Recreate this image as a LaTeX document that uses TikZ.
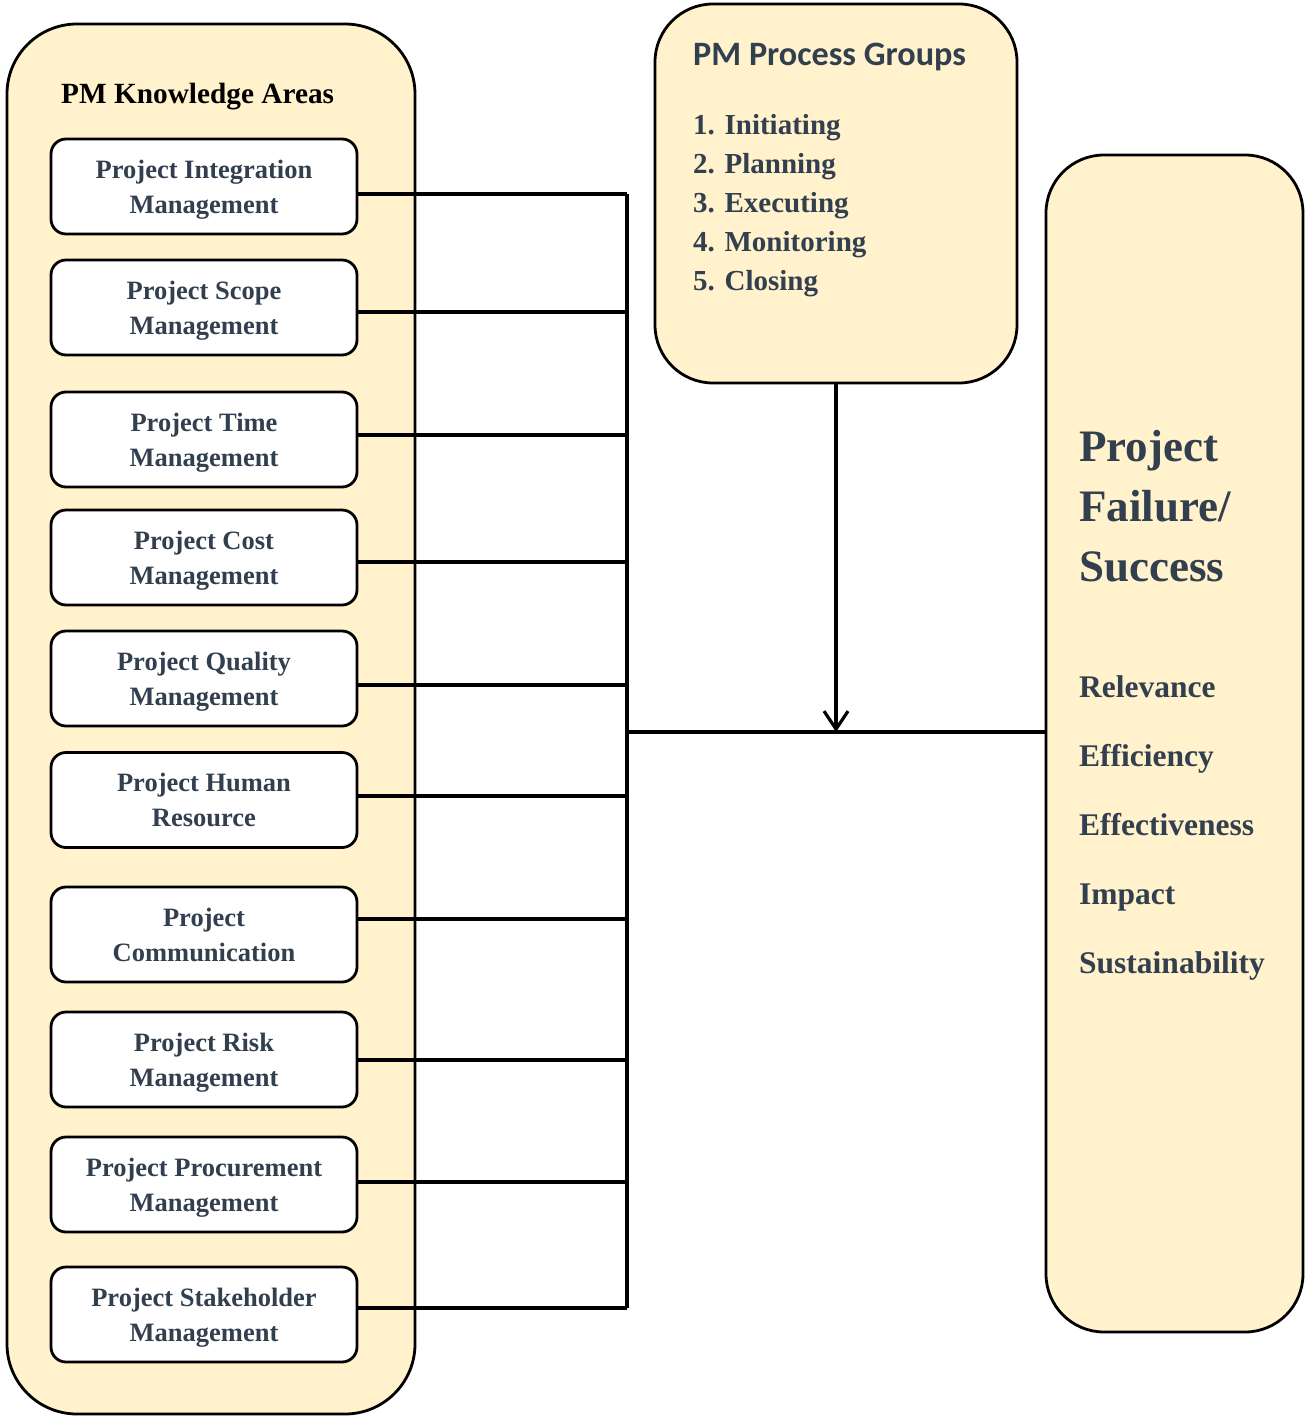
\documentclass[tikz,border=0pt]{standalone}
\usepackage{fontspec}
\setmainfont{Liberation Serif}
\newfontfamily\groupfont{Carlito}
\usepackage{tikz}
\usetikzlibrary{arrows.meta}
\definecolor{pmfill}{RGB}{255,242,204}
\definecolor{pmtext}{RGB}{50,63,79}

\begin{document}
\begin{tikzpicture}[x=1pt,y=-1pt]
    \tikzset{
    panel/.style={draw=black,line width=2.8pt,fill=pmfill},
    area/.style={draw=black,line width=2.8pt,fill=white,rounded corners=15pt,minimum width=306pt,minimum height=95pt,align=center,text=pmtext,font=\fontsize{26.5}{35}\selectfont\bfseries,text height=56pt,text depth=3pt},
    item/.style={anchor=base west,inner sep=0pt,text=pmtext,font=\fontsize{29}{35}\selectfont\bfseries},
    crit/.style={anchor=base west,inner sep=0pt,text=pmtext,font=\fontsize{31.5}{38}\selectfont\bfseries},
    big/.style={anchor=base west,inner sep=0pt,text=pmtext,font=\fontsize{45}{50}\selectfont\bfseries},
    wire/.style={draw=black,line width=3.2pt},
    }
    \useasboundingbox (0,0) rectangle (1306,1416);

    % the three panels
    \node[panel,rounded corners=70pt,minimum width=408pt,minimum height=1390pt] (kas) at (211,719) {};
    \node[panel,rounded corners=58pt,minimum width=362pt,minimum height=379pt] (pg) at (836,193.5) {};
    \node[panel,rounded corners=58pt,minimum width=257pt,minimum height=1177pt] (res) at (1174.5,743.5) {};

    \node[anchor=base west,inner sep=0pt,font=\fontsize{29.3}{35}\selectfont\bfseries] (kastitle) at (61,103) {PM Knowledge Areas};

    \node[area] (ka1) at (204,186.5) {Project Integration\\Management};
    \node[area] (ka2) at (204,307.5) {Project Scope\\Management};
    \node[area] (ka3) at (204,439.5) {Project Time\\Management};
    \node[area] (ka4) at (204,557.5) {Project Cost\\Management};
    \node[area] (ka5) at (204,678.5) {Project Quality\\Management};
    \node[area] (ka6) at (204,800) {Project Human\\Resource};
    \node[area] (ka7) at (204,934.5) {Project\\Communication};
    \node[area] (ka8) at (204,1059.5) {Project Risk\\Management};
    \node[area] (ka9) at (204,1184.5) {Project Procurement\\Management};
    \node[area] (ka10) at (204,1314.5) {Project Stakeholder\\Management};

    % process groups
    \node[anchor=base west,inner sep=0pt,text=pmtext,font=\groupfont\fontsize{34.2}{40}\selectfont\bfseries] (pgtitle) at (693,65) {PM Process Groups};
    \node[item] (pg1) at (693,134) {1. Initiating};
    \node[item] (pg2) at (693,173) {2. Planning};
    \node[item] (pg3) at (693,212) {3. Executing};
    \node[item] (pg4) at (693,251) {4. Monitoring};
    \node[item] (pg5) at (693,290) {5. Closing};

    % outcome
    \node[big] (res1) at (1079,461) {Project};
    \node[big] (res2) at (1079,521) {Failure/};
    \node[big] (res3) at (1079,581) {Success};
    \node[crit] (cr1) at (1079,697) {Relevance};
    \node[crit] (cr2) at (1079,766) {Efficiency};
    \node[crit] (cr3) at (1079,835) {Effectiveness};
    \node[crit] (cr4) at (1079,904) {Impact};
    \node[crit] (cr5) at (1079,973) {Sustainability};

    % bus
    \coordinate (t1) at (627,194);
    \coordinate (t2) at (627,312);
    \coordinate (t3) at (627,435);
    \coordinate (t4) at (627,562);
    \coordinate (t5) at (627,685);
    \coordinate (t6) at (627,796);
    \coordinate (t7) at (627,919);
    \coordinate (t8) at (627,1060);
    \coordinate (t9) at (627,1182);
    \coordinate (t10) at (627,1308);
    \coordinate (join) at (627,732);

    \draw[wire] (ka1.east |- t1) -- (t1);
    \draw[wire] (ka2.east |- t2) -- (t2);
    \draw[wire] (ka3.east |- t3) -- (t3);
    \draw[wire] (ka4.east |- t4) -- (t4);
    \draw[wire] (ka5.east |- t5) -- (t5);
    \draw[wire] (ka6.east |- t6) -- (t6);
    \draw[wire] (ka7.east |- t7) -- (t7);
    \draw[wire] (ka8.east |- t8) -- (t8);
    \draw[wire] (ka9.east |- t9) -- (t9);
    \draw[wire] (ka10.east |- t10) -- (t10);
    \draw[wire] (t1) -- (t10);
    \draw[wire] (join) -- (join -| res.west);
    \draw[wire,-{Straight Barb[length=18pt,width=24pt]}] (pg.south) -- (pg.south |- join);

\end{tikzpicture}
\end{document}
